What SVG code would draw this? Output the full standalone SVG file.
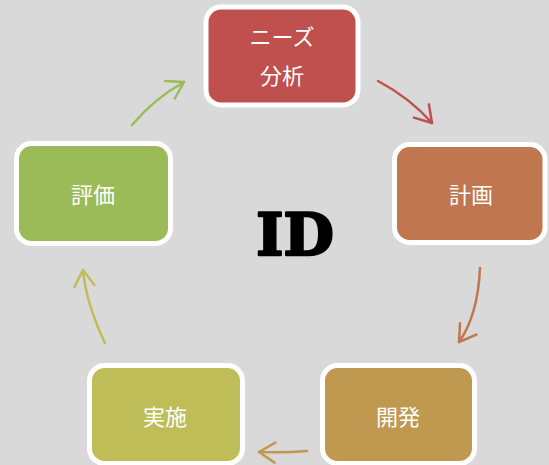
<svg xmlns="http://www.w3.org/2000/svg" width="549" height="465" viewBox="0 0 549 465">
<style>
.node rect{stroke:#ffffff;stroke-width:5}
.lbl{font-family:"Noto Sans CJK JP","Noto Sans",sans-serif;font-size:22px;fill:#ffffff;text-anchor:middle;dominant-baseline:central}
.arr{fill:none;stroke-width:2.5;stroke-linecap:round}
</style>
<defs>
<marker id="mRed" viewBox="0 0 20 24" refX="18" refY="12" markerWidth="20" markerHeight="24" markerUnits="userSpaceOnUse" orient="auto"><path d="M2,2 L18,12 L2,22" fill="none" stroke="#C0504D" stroke-width="2.5" stroke-linecap="round" stroke-linejoin="round"/></marker>
<marker id="mOrg" viewBox="0 0 20 24" refX="18" refY="12" markerWidth="20" markerHeight="24" markerUnits="userSpaceOnUse" orient="auto"><path d="M2,2 L18,12 L2,22" fill="none" stroke="#C0774F" stroke-width="2.5" stroke-linecap="round" stroke-linejoin="round"/></marker>
<marker id="mGold" viewBox="0 0 20 24" refX="18" refY="12" markerWidth="20" markerHeight="24" markerUnits="userSpaceOnUse" orient="auto"><path d="M2,2 L18,12 L2,22" fill="none" stroke="#BF9950" stroke-width="2.5" stroke-linecap="round" stroke-linejoin="round"/></marker>
<marker id="mYel" viewBox="0 0 20 24" refX="18" refY="12" markerWidth="20" markerHeight="24" markerUnits="userSpaceOnUse" orient="auto"><path d="M2,2 L18,12 L2,22" fill="none" stroke="#BEBD58" stroke-width="2.5" stroke-linecap="round" stroke-linejoin="round"/></marker>
<marker id="mGrn" viewBox="0 0 20 24" refX="18" refY="12" markerWidth="20" markerHeight="24" markerUnits="userSpaceOnUse" orient="auto"><path d="M2,2 L18,12 L2,22" fill="none" stroke="#9BBB59" stroke-width="2.5" stroke-linecap="round" stroke-linejoin="round"/></marker>
</defs>
<rect x="0" y="0" width="549" height="465" fill="#D9D9D9"/>
<g id="connectors">
<path class="arr" stroke="#C0504D" d="M378,81 Q410,98 432,123" marker-end="url(#mRed)"/>
<path class="arr" stroke="#C0774F" d="M480,268 Q478,315 459,342" marker-end="url(#mOrg)"/>
<path class="arr" stroke="#BF9950" d="M307,451 Q285,453 259,452" marker-end="url(#mGold)"/>
<path class="arr" stroke="#BEBD58" d="M105,343 Q86,303 83,270" marker-end="url(#mYel)"/>
<path class="arr" stroke="#9BBB59" d="M132,125 Q155,98 184,82" marker-end="url(#mGrn)"/>
</g>
<g id="node-needs" class="node">
<rect x="206" y="7" width="152" height="98" rx="15" fill="#C0504D"/>
<text class="lbl" x="282" y="35">ニーズ</text>
<text class="lbl" x="282" y="74">分析</text>
</g>
<g id="node-plan" class="node">
<rect x="394.5" y="144.5" width="150.5" height="98" rx="15" fill="#C0774F"/>
<text class="lbl" x="471" y="193">計画</text>
</g>
<g id="node-dev" class="node">
<rect x="322.5" y="365.5" width="152" height="98" rx="15" fill="#BF9950"/>
<text class="lbl" x="398" y="415">開発</text>
</g>
<g id="node-impl" class="node">
<rect x="89.5" y="365.5" width="153" height="98" rx="15" fill="#BEBD58"/>
<text class="lbl" x="165" y="415">実施</text>
</g>
<g id="node-eval" class="node">
<rect x="16.5" y="143.5" width="154" height="100" rx="15" fill="#9BBB59"/>
<text class="lbl" x="93" y="193">評価</text>
</g>
<g id="title">
<text x="295" y="255" text-anchor="middle" font-family="DejaVu Serif" font-weight="bold" font-size="58" fill="#000000" stroke="#000000" stroke-width="2.5" stroke-linejoin="round">ID</text>
</g>
</svg>
